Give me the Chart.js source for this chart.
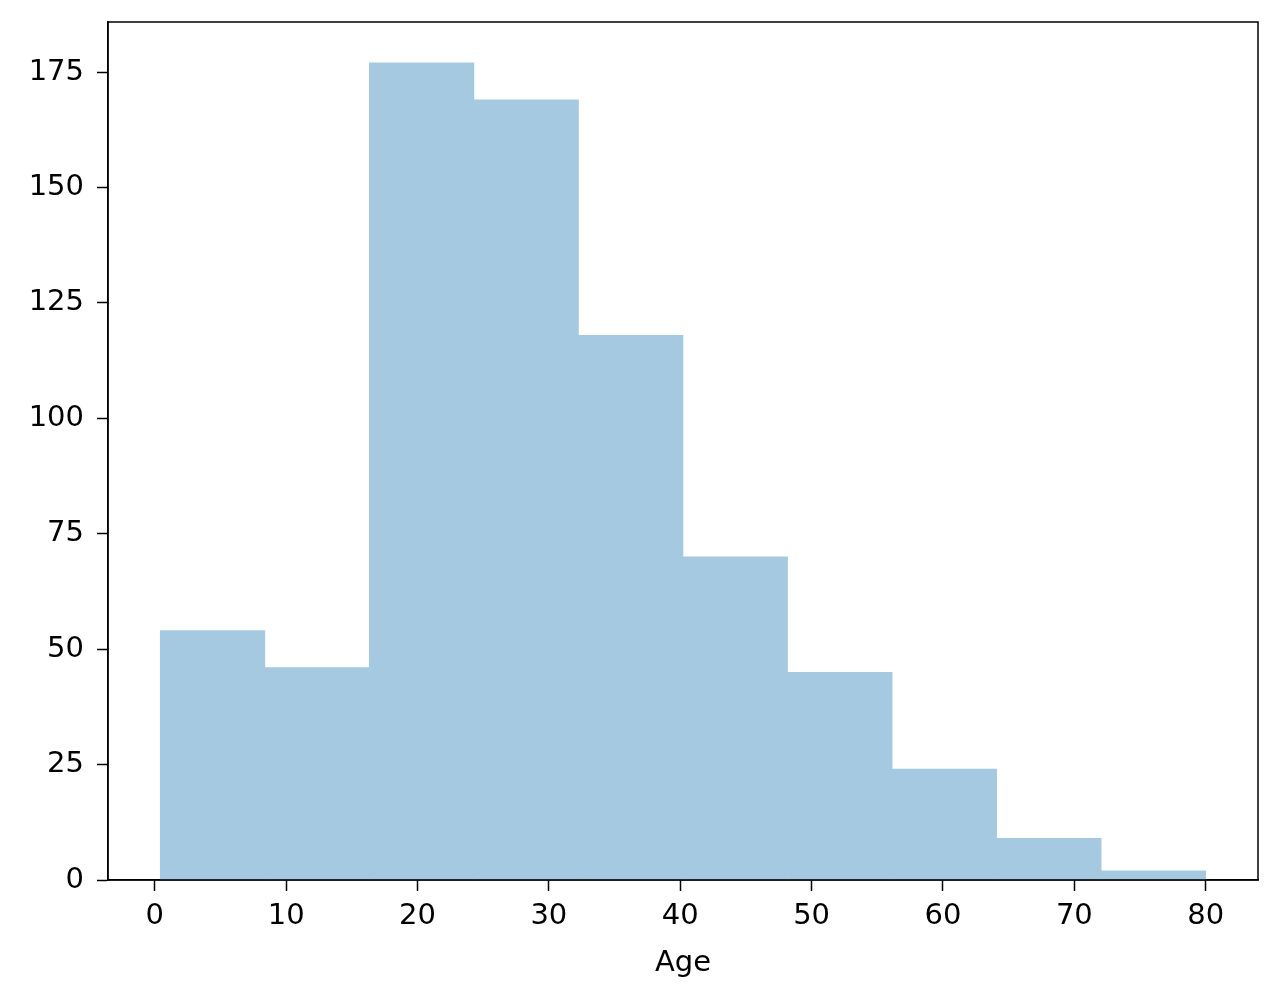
<!DOCTYPE html>
<html>
<head>
<meta charset="utf-8">
<script src="https://cdn.jsdelivr.net/npm/chart.js@4.4.0/dist/chart.umd.min.js"></script>
<style>
  html, body { margin: 0; padding: 0; background: #fff; }
  canvas { display: block; }
</style>
</head>
<body>
<canvas id="hist" width="1280" height="1001"></canvas>
<script>
// histogram of Age, 10 bins
const binEdges = [0.42, 8.378, 16.336, 24.294, 32.252, 40.21, 48.168, 56.126, 64.084, 72.042, 80]
const counts = [54, 46, 177, 169, 118, 70, 45, 24, 9, 2]
const xTicks = [0, 10, 20, 30, 40, 50, 60, 70, 80]
const yTicks = [0, 25, 50, 75, 100, 125, 150, 175]

const font = { family: 'DejaVu Sans', size: 29 }

let points = []
for (let i in counts) {
    points.push({ x: (binEdges[i] + binEdges[+i + 1]) / 2, y: counts[i] })
}

// top and right spines
const frame = {
    id: 'frame',
    afterDraw(chart) {
        const a = chart.chartArea
        const ctx = chart.ctx
        ctx.save()
        ctx.strokeStyle = '#000'
        ctx.lineWidth = 1.5
        ctx.strokeRect(a.left, a.top, a.right - a.left, a.bottom - a.top)
        ctx.restore()
    }
}

new Chart(document.getElementById('hist'), {
    type: 'bar',
    data: {
        datasets: [{
            data: points,
            backgroundColor: 'rgb(165,201,225)',
            borderWidth: 0,
            barPercentage: 1,
            categoryPercentage: 1
        }]
    },
    options: {
        responsive: false,
        animation: false,
        layout: { padding: { left: 0, right: 22, top: 22, bottom: 20 } },
        plugins: { legend: { display: false }, tooltip: { enabled: false } },
        scales: {
            x: {
                type: 'linear',
                offset: false,
                min: -3.559,
                max: 83.979,
                afterBuildTicks: axis => { axis.ticks = xTicks.map(v => ({ value: v })) },
                afterFit: axis => {
                    axis.height = 1001 - 880 - 20
                    axis.paddingLeft = 0
                    axis.paddingRight = 0
                },
                grid: { offset: false, drawOnChartArea: false, tickLength: 11, tickWidth: 1.5, tickColor: '#000' },
                border: { display: true, color: '#000', width: 1.5 },
                ticks: { font: font, color: '#000', padding: 8, maxRotation: 0 },
                title: { display: true, text: 'Age', font: font, color: '#000', padding: { top: 4, bottom: 0 } }
            },
            y: {
                min: 0,
                max: 185.85,
                afterBuildTicks: axis => { axis.ticks = yTicks.map(v => ({ value: v })) },
                afterFit: axis => {
                    axis.width = 108
                    axis.paddingTop = 0
                    axis.paddingBottom = 0
                },
                grid: { drawOnChartArea: false, tickLength: 11, tickWidth: 1.5, tickColor: '#000' },
                border: { display: true, color: '#000', width: 1.5 },
                ticks: { font: font, color: '#000', padding: 13 }
            }
        }
    },
    plugins: [frame]
})
</script>
</body>
</html>
